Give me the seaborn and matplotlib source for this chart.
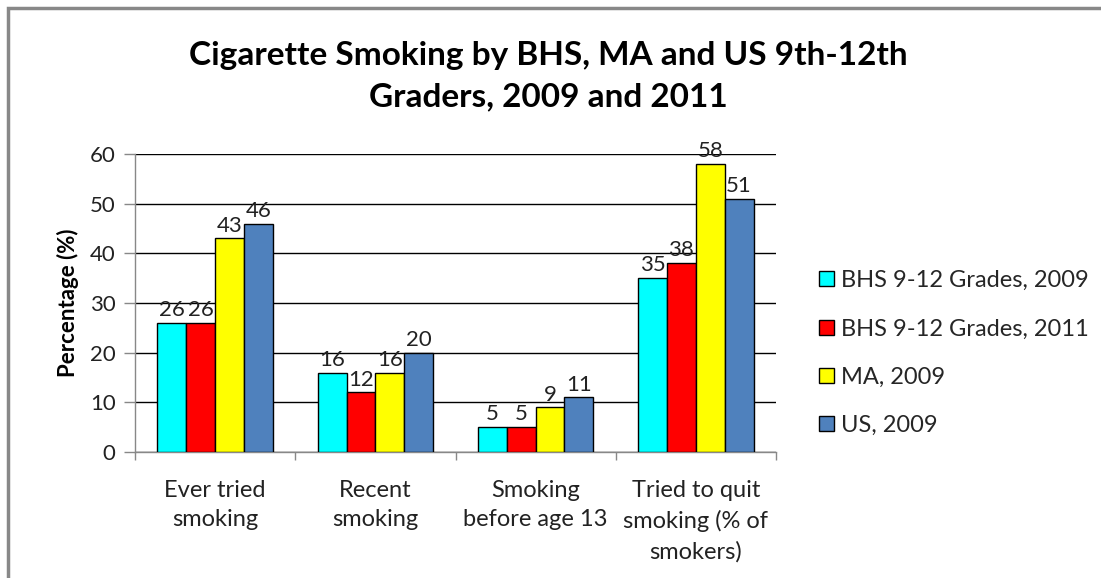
import matplotlib
matplotlib.use("Agg")
import matplotlib.pyplot as plt
import seaborn as sns
import pandas as pd
from matplotlib.patches import Rectangle

categories = ["Ever tried\nsmoking", "Recent\nsmoking", "Smoking\nbefore age 13", "Tried to quit\nsmoking (% of\nsmokers)"]
series = ["BHS 9-12 Grades, 2009", "BHS 9-12 Grades, 2011", "MA, 2009", "US, 2009"]
bhs_2009 = [26, 16, 5, 35]
bhs_2011 = [26, 12, 5, 38]
ma_2009 = [43, 16, 9, 58]
us_2009 = [46, 20, 11, 51]
colors = ["#00FFFF", "#FF0000", "#FFFF00", "#4F81BD"]
yticks = [0, 10, 20, 30, 40, 50, 60]

rows = []
for s, vals in zip(series, [bhs_2009, bhs_2011, ma_2009, us_2009]):
    for c, v in zip(categories, vals):
        rows.append({"category": c, "series": s, "value": v})
df = pd.DataFrame(rows)

sns.set_theme(style="white")
plt.rcParams["font.family"] = ["Lato", "DejaVu Sans"]

fig = plt.figure(figsize=(11.01, 5.78), dpi=100)
ax = fig.add_axes([135/1101, 1-452/578, (776-135)/1101, (452-154)/578])

sns.barplot(data=df, x="category", y="value", hue="series", order=categories,
            hue_order=series, palette=colors, saturation=1, width=0.72, gap=0,
            edgecolor="black", linewidth=1.0, ax=ax, legend=True, zorder=3)

for cont in ax.containers:
    ax.bar_label(cont, fmt="%d", padding=2, fontsize=16, color="#222222")

ax.set_ylim(0, 60)
ax.set_xlim(-0.5, 3.5)
ax.set_yticks(yticks)
ax.set_yticklabels([str(t) for t in yticks], fontsize=16, color="#222222")
ax.yaxis.grid(True, color="black", linewidth=1.0, zorder=0)
ax.set_axisbelow(True)
ax.tick_params(axis="y", which="major", direction="out", length=8, width=1, color="#888888", left=True, pad=6)
ax.tick_params(axis="x", which="major", length=0, pad=20)
ax.set_xticks([-0.5, 0.5, 1.5, 2.5, 3.5], minor=True)
ax.tick_params(axis="x", which="minor", direction="out", length=6, width=1, color="#888888", bottom=True)
ax.set_xticklabels(categories, fontsize=17, color="#222222", linespacing=1.5)
ax.set_xlabel("")
ax.set_ylabel("Percentage (%)", fontsize=16, fontweight="bold", color="black", labelpad=8)
for side in ["top", "right"]:
    ax.spines[side].set_visible(False)
for side in ["left", "bottom"]:
    ax.spines[side].set_color("#888888")
    ax.spines[side].set_linewidth(1.0)

leg = ax.legend(loc="center left", bbox_to_anchor=(810/1101, 1-353/578), bbox_transform=fig.transFigure,
                frameon=False, fontsize=17, handlelength=0.6, handleheight=0.6, handletextpad=0.3,
                labelspacing=1.15, borderaxespad=0)
for h in leg.legend_handles:
    h.set_edgecolor("black")
    h.set_linewidth(1.0)

fig.text(548/1101, 1 - 55/578, "Cigarette Smoking by BHS, MA and US 9th-12th",
         ha="center", va="center", fontsize=24, fontweight="bold", color="black")
fig.text(548/1101, 1 - 97/578, "Graders, 2009 and 2011",
         ha="center", va="center", fontsize=24, fontweight="bold", color="black")

fig.patches.append(Rectangle((8/1101, -0.01), 1.02, 1 - 8/578 + 0.01, transform=fig.transFigure,
                             fill=False, edgecolor="#888888", linewidth=2.5))

fig.savefig("out.png", dpi=100)
